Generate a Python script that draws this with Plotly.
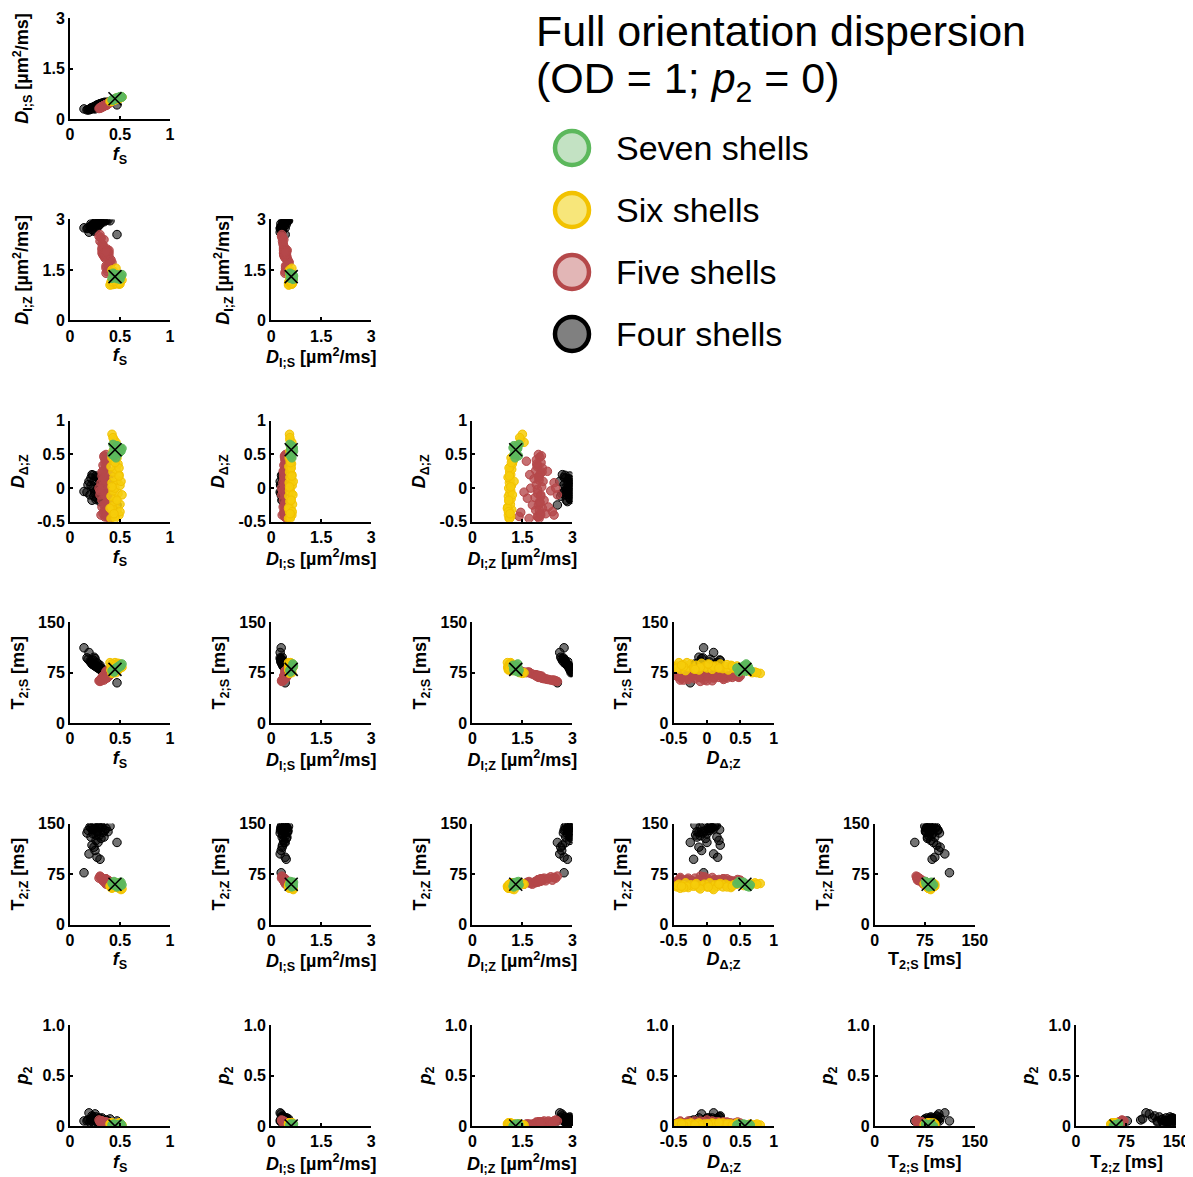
import plotly.graph_objects as go

# page body has an 8px margin, so the figure is offset by 8px inside the 1193x1177 window
W, H = 1185, 1169
OFF = 8

# ---------------- data ----------------
# columns: fS, D_I;S, D_I;Z, D_Delta;Z, T2;S, T2;Z, p2
var_keys = ["fS", "DIS", "DIZ", "DDZ", "T2S", "T2Z", "p2"]

axis_titles = [
    "<b><i>f</i><sub>S</sub></b>",
    "<b><i>D</i><sub>I;S</sub> [µm<sup>2</sup>/ms]</b>",
    "<b><i>D</i><sub>I;Z</sub> [µm<sup>2</sup>/ms]</b>",
    "<b><i>D</i><sub>Δ;Z</sub></b>",
    "<b>T<sub>2;S</sub> [ms]</b>",
    "<b>T<sub>2;Z</sub> [ms]</b>",
    "<b><i>p</i><sub>2</sub></b>",
]
axis_ranges = [[0, 1], [0, 3], [0, 3], [-0.5, 1], [0, 150], [0, 150], [0, 1]]
tick_vals = [[0, 0.5, 1], [0, 1.5, 3], [0, 1.5, 3], [-0.5, 0, 0.5, 1],
             [0, 75, 150], [0, 75, 150], [0, 0.5, 1]]
tick_text = [["0", "0.5", "1"], ["0", "1.5", "3"], ["0", "1.5", "3"],
             ["-0.5", "0", "0.5", "1"], ["0", "75", "150"], ["0", "75", "150"],
             ["0", "0.5", "1.0"]]

# Four shells
four_fS  = [0.14, 0.47, 0.18, 0.20, 0.21, 0.22, 0.23, 0.24, 0.25, 0.26, 0.27, 0.28, 0.29, 0.30, 0.31,
            0.32, 0.33, 0.35, 0.22, 0.25, 0.27, 0.30, 0.19, 0.24, 0.28, 0.21, 0.26, 0.31, 0.17, 0.23,
            0.36, 0.38, 0.40, 0.34, 0.29, 0.27]
four_DIS = [0.30, 0.42, 0.28, 0.30, 0.33, 0.32, 0.35, 0.36, 0.38, 0.37, 0.40, 0.41, 0.43, 0.44, 0.46,
            0.47, 0.48, 0.50, 0.34, 0.30, 0.42, 0.45, 0.27, 0.33, 0.39, 0.29, 0.35, 0.42, 0.27, 0.31,
            0.48, 0.50, 0.52, 0.47, 0.44, 0.39]
four_DIZ = [2.75, 2.55, 2.75, 2.78, 2.80, 2.82, 2.85, 2.88, 2.90, 2.92, 2.93, 2.95, 2.96, 2.97, 2.98,
            2.99, 2.97, 2.98, 2.70, 2.68, 2.75, 2.85, 2.62, 2.65, 2.80, 2.87, 2.94, 2.90, 2.73, 2.78,
            2.97, 2.99, 2.96, 2.93, 2.91, 2.86]
four_DDZ = [-0.05, -0.25, 0.05, -0.10, 0.15, -0.18, 0.00, 0.10, -0.05, 0.18, -0.15, 0.05, -0.10, 0.12, -0.02,
            0.08, -0.12, 0.02, 0.20, -0.08, 0.16, -0.20, 0.10, -0.12, 0.00, 0.04, -0.17, 0.14, -0.06, 0.19,
            0.06, -0.08, 0.12, -0.15, 0.03, -0.04]
four_T2S = [112, 60, 95, 92, 90, 88, 87, 86, 85, 84, 83, 82, 81, 80, 79,
            78, 77, 76, 93, 96, 90, 86, 105, 98, 88, 91, 85, 82, 97, 94,
            77, 76, 75, 79, 83, 85]
four_T2Z = [77, 122, 140, 145, 130, 148, 135, 142, 150, 125, 138, 146, 132, 149, 128,
            144, 137, 140, 118, 110, 100, 97, 105, 115, 122, 143, 133, 147, 136, 141,
            143, 138, 146, 130, 145, 139]
four_p2  = [0.05, 0.05, 0.06, 0.04, 0.07, 0.05, 0.08, 0.03, 0.06, 0.09, 0.04, 0.07, 0.05, 0.03, 0.06,
            0.08, 0.04, 0.05, 0.10, 0.12, 0.07, 0.06, 0.13, 0.08, 0.04, 0.06, 0.05, 0.07, 0.05, 0.09,
            0.06, 0.05, 0.07, 0.04, 0.08, 0.06]

# Five shells
five_fS  = [0.40, 0.38, 0.36, 0.33, 0.37, 0.31, 0.39, 0.35, 0.34, 0.37, 0.32, 0.38, 0.35, 0.36, 0.30,
            0.33, 0.39, 0.34, 0.31, 0.37, 0.35, 0.32, 0.38, 0.34, 0.36, 0.33, 0.37, 0.35, 0.34, 0.36,
            0.36, 0.30, 0.29, 0.40, 0.41, 0.42, 0.38, 0.33, 0.32, 0.39, 0.36, 0.34,
            0.35, 0.37, 0.33, 0.36, 0.34, 0.38, 0.32, 0.36, 0.35, 0.37, 0.34, 0.36]
five_DIS = [0.50, 0.45, 0.40, 0.38, 0.42, 0.33, 0.47, 0.41, 0.39, 0.44, 0.37, 0.46, 0.40, 0.43, 0.34,
            0.38, 0.48, 0.40, 0.35, 0.44, 0.42, 0.37, 0.45, 0.39, 0.42, 0.38, 0.44, 0.41, 0.40, 0.43,
            0.43, 0.32, 0.31, 0.52, 0.50, 0.54, 0.47, 0.36, 0.36, 0.46, 0.41, 0.38,
            0.41, 0.44, 0.38, 0.42, 0.40, 0.45, 0.37, 0.43, 0.41, 0.44, 0.39, 0.42]
five_DIZ = [1.70, 1.95, 2.05, 2.20, 1.45, 2.45, 1.90, 2.10, 1.98, 2.02, 2.15, 1.88, 2.05, 1.55, 2.35,
            1.95, 2.08, 1.92, 2.45, 2.12, 1.85, 2.00, 2.04, 1.90, 2.10, 1.96, 2.06, 1.92, 2.02, 1.98,
            1.62, 2.55, 2.50, 1.75, 1.80, 1.72, 1.65, 2.25, 2.28, 2.00, 1.40, 2.40,
            1.97, 2.03, 2.00, 1.94, 2.07, 1.96, 2.09, 2.01, 1.93, 2.05, 1.99, 2.04]
five_DDZ = [-0.45, -0.42, -0.40, -0.38, -0.36, -0.40, -0.33, -0.30, -0.25, -0.20, -0.18, -0.14, -0.10, -0.06, -0.04,
            -0.02, 0.02, 0.05, 0.08, 0.10, 0.14, 0.18, 0.22, 0.26, 0.30, 0.34, 0.38, 0.42, 0.46, 0.50,
            0.40, -0.10, 0.00, 0.00, -0.25, 0.20, -0.15, 0.25, -0.28, -0.45, -0.42, -0.35,
            -0.43, -0.22, 0.12, 0.32, 0.48, -0.08, 0.24, -0.33, 0.36, -0.12, 0.16, -0.38]
five_T2S = [76, 70, 68, 66, 78, 64, 72, 68, 69, 70, 66, 72, 68, 76, 64,
            69, 70, 71, 63, 67, 72, 68, 69, 71, 67, 70, 68, 70, 69, 70,
            75, 62, 63, 74, 73, 75, 76, 65, 65, 70, 77, 64,
            69, 70, 68, 71, 68, 71, 67, 69, 70, 68, 71, 69]
five_T2Z = [64, 66, 68, 65, 62, 70, 63, 67, 66, 64, 69, 62, 67, 60, 71,
            66, 65, 64, 70, 66, 63, 67, 65, 64, 68, 66, 65, 64, 67, 66,
            62, 72, 69, 61, 60, 62, 63, 68, 69, 64, 62, 66,
            66, 65, 67, 64, 66, 63, 68, 65, 64, 66, 65, 67]
five_p2  = [0.02, 0.03, 0.04, 0.02, 0.01, 0.05, 0.03, 0.02, 0.04, 0.03, 0.05, 0.02, 0.03, 0.01, 0.04,
            0.03, 0.02, 0.04, 0.05, 0.03, 0.02, 0.04, 0.03, 0.02, 0.04, 0.03, 0.02, 0.03, 0.04, 0.03,
            0.02, 0.05, 0.06, 0.01, 0.02, 0.01, 0.02, 0.04, 0.05, 0.03, 0.02, 0.03,
            0.03, 0.02, 0.04, 0.03, 0.02, 0.03, 0.04, 0.02, 0.03, 0.02, 0.04, 0.03]

# Six shells
six_fS  = [0.41, 0.45, 0.49, 0.43, 0.47, 0.42, 0.50, 0.44, 0.46, 0.41, 0.48, 0.43, 0.45, 0.50, 0.42,
           0.47, 0.44, 0.49, 0.43, 0.46, 0.41, 0.48, 0.44, 0.47, 0.43, 0.45, 0.44, 0.42, 0.51, 0.40,
           0.52, 0.46, 0.45, 0.49, 0.42, 0.50, 0.44, 0.47, 0.42, 0.49, 0.45, 0.46, 0.43]
six_DIS = [0.52, 0.58, 0.62, 0.55, 0.60, 0.54, 0.64, 0.56, 0.59, 0.53, 0.61, 0.55, 0.57, 0.63, 0.54,
           0.60, 0.56, 0.62, 0.55, 0.58, 0.53, 0.61, 0.57, 0.60, 0.56, 0.58, 0.56, 0.55, 0.66, 0.52,
           0.65, 0.62, 0.57, 0.60, 0.54, 0.63, 0.57, 0.60, 0.55, 0.62, 0.58, 0.59, 0.56]
six_DIZ = [1.10, 1.15, 1.08, 1.12, 1.18, 1.06, 1.14, 1.10, 1.16, 1.08, 1.12, 1.15, 1.09, 1.17, 1.11,
           1.13, 1.07, 1.15, 1.12, 1.18, 1.14, 1.20, 1.22, 1.25, 1.30, 1.38, 1.45, 1.50, 1.25, 1.05,
           1.20, 1.55, 1.12, 1.10, 1.16, 1.08, 1.13, 1.09, 1.15, 1.11, 1.17, 1.35, 1.42]
six_DDZ = [-0.45, -0.42, -0.40, -0.35, -0.32, -0.28, -0.24, -0.20, -0.16, -0.12, -0.08, -0.04, 0.00, 0.04, 0.08,
           0.12, 0.16, 0.20, 0.24, 0.28, 0.32, 0.36, 0.40, 0.45, 0.55, 0.65, 0.72, 0.80, 0.10, -0.30,
           -0.10, 0.68, -0.45, 0.30, 0.45, -0.35, -0.38, -0.18, 0.02, 0.18, 0.38, 0.60, 0.75]
six_T2S = [85, 90, 80, 87, 78, 83, 88, 81, 86, 79, 89, 84, 82, 87, 80,
           85, 83, 88, 81, 84, 79, 86, 82, 80, 78, 77, 76, 74, 84, 90,
           83, 75, 82, 87, 85, 84, 86, 80, 88, 82, 85, 79, 75]
six_T2Z = [56, 60, 54, 58, 62, 55, 59, 57, 61, 55, 58, 60, 56, 62, 54,
           59, 57, 61, 56, 60, 58, 55, 59, 61, 58, 60, 62, 61, 52, 57,
           53, 60, 58, 56, 60, 55, 57, 59, 56, 60, 57, 59, 60]
six_p2  = [0.02, 0.01, 0.03, 0.02, 0.01, 0.02, 0.03, 0.01, 0.02, 0.03, 0.01, 0.02, 0.02, 0.01, 0.03,
           0.02, 0.01, 0.02, 0.03, 0.01, 0.02, 0.02, 0.01, 0.02, 0.01, 0.02, 0.01, 0.01, 0.02, 0.02,
           0.01, 0.01, 0.02, 0.02, 0.03, 0.01, 0.02, 0.01, 0.02, 0.03, 0.01, 0.01, 0.02]

# Seven shells
seven_fS  = [0.45, 0.42, 0.48, 0.44, 0.50, 0.46, 0.43, 0.51, 0.47, 0.44, 0.49, 0.52]
seven_DIS = [0.60, 0.57, 0.64, 0.58, 0.66, 0.62, 0.56, 0.67, 0.61, 0.59, 0.63, 0.65]
seven_DIZ = [1.30, 1.25, 1.35, 1.38, 1.22, 1.28, 1.40, 1.32, 1.24, 1.34, 1.27, 1.36]
seven_DDZ = [0.57, 0.50, 0.62, 0.48, 0.60, 0.45, 0.65, 0.55, 0.63, 0.58, 0.52, 0.59]
seven_T2S = [80, 78, 84, 76, 86, 82, 79, 85, 81, 77, 83, 88]
seven_T2Z = [60, 62, 58, 64, 57, 61, 59, 63, 56, 60, 62, 59]
seven_p2  = [0.00, 0.01, 0.01, 0.02, 0.00, 0.01, 0.01, 0.02, 0.00, 0.01, 0.01, 0.00]

# Ground truth
truth = [0.45, 0.60, 1.30, 0.57, 80, 60, 0.0]

group_names = ["Four shells", "Five shells", "Six shells", "Seven shells"]
group_data = [
    [four_fS, four_DIS, four_DIZ, four_DDZ, four_T2S, four_T2Z, four_p2],
    [five_fS, five_DIS, five_DIZ, five_DDZ, five_T2S, five_T2Z, five_p2],
    [six_fS, six_DIS, six_DIZ, six_DDZ, six_T2S, six_T2Z, six_p2],
    [seven_fS, seven_DIS, seven_DIZ, seven_DDZ, seven_T2S, seven_T2Z, seven_p2],
]
edge_colors = ["#000000", "#b5484a", "#f2c200", "#5cb85c"]
fill_colors = ["rgba(0,0,0,0.55)", "rgba(181,72,74,0.78)", "rgba(246,205,10,0.85)", "rgba(92,184,92,0.9)"]
legend_fill = ["#808080", "#e2b6b6", "#f7e67a", "#c3e2c3"]

FONT = "Liberation Sans, Arial, sans-serif"

def px_x(p):
    return (p - OFF) / W

def px_y(p):
    return 1 - (p - OFF) / H

fig = go.Figure()
layout_axes = {}
annotations = []
k = 0
for r in range(6):
    yi = r + 1
    top = 18 + 201.4 * r
    bot = top + 101
    for c in range(r + 1):
        xi = c
        k += 1
        left = 70 + 201.2 * c
        right = left + 100
        xname = "x" if k == 1 else f"x{k}"
        yname = "y" if k == 1 else f"y{k}"
        for g in range(4):
            fig.add_trace(go.Scatter(
                x=group_data[g][xi], y=group_data[g][yi], mode="markers",
                xaxis=xname, yaxis=yname, showlegend=False, name=group_names[g],
                marker=dict(size=8.5, color=fill_colors[g],
                            line=dict(color=edge_colors[g], width=1)),
            ))
        fig.add_trace(go.Scatter(
            x=[truth[xi]], y=[truth[yi]], mode="markers", xaxis=xname, yaxis=yname,
            showlegend=False, name="Ground truth",
            marker=dict(symbol="x-thin", size=13, color="black",
                        line=dict(color="black", width=1.6)),
        ))
        common = dict(showline=True, linecolor="black", linewidth=2, showgrid=False,
                      zeroline=False, ticks="inside", ticklen=3, tickwidth=1.5,
                      tickcolor="black", automargin=False,
                      tickfont=dict(family=FONT, size=16, color="black", weight="bold"))
        bottom_row = (r == 5)
        layout_axes["xaxis" if k == 1 else f"xaxis{k}"] = dict(
            domain=[px_x(left), px_x(right)], anchor=yname,
            range=axis_ranges[xi], tickvals=tick_vals[xi], ticktext=tick_text[xi],
            title=dict(text="" if bottom_row else axis_titles[xi], standoff=5,
                       font=dict(family=FONT, size=18, color="black")),
            **common)
        if bottom_row:
            # bottom-row titles sit at the page edge, so place them directly
            annotations.append(dict(x=px_x(left + 50), y=px_y(bot + 37), xref="paper", yref="paper",
                                    xanchor="center", yanchor="middle", showarrow=False,
                                    text=axis_titles[xi],
                                    font=dict(family=FONT, size=18, color="black")))
        layout_axes["yaxis" if k == 1 else f"yaxis{k}"] = dict(
            domain=[px_y(bot), px_y(top)], anchor=xname,
            range=axis_ranges[yi], tickvals=tick_vals[yi], ticktext=tick_text[yi],
            title=dict(text=axis_titles[yi], standoff=9,
                       font=dict(family=FONT, size=18, color="black")),
            **common)

# legend drawn as layout shapes + text
shapes = []
leg_order = [3, 2, 1, 0]
leg_y = [148, 210, 272, 334]
for i, g in enumerate(leg_order):
    cx, cy, rad = 572, leg_y[i], 17
    shapes.append(dict(type="circle", xref="paper", yref="paper",
                       x0=px_x(cx - rad), x1=px_x(cx + rad),
                       y0=px_y(cy + rad), y1=px_y(cy - rad),
                       fillcolor=legend_fill[g], line=dict(color=edge_colors[g], width=4.5)))
    annotations.append(dict(x=px_x(614), y=px_y(cy), xref="paper", yref="paper",
                            xanchor="left", yanchor="middle", showarrow=False,
                            text=group_names[g],
                            font=dict(family=FONT, size=34, color="black")))

annotations.append(dict(x=px_x(534), y=px_y(31), xref="paper", yref="paper",
                        xanchor="left", yanchor="middle", showarrow=False,
                        text="Full orientation dispersion",
                        font=dict(family=FONT, size=43, color="black")))
annotations.append(dict(x=px_x(534), y=px_y(81), xref="paper", yref="paper",
                        xanchor="left", yanchor="middle", showarrow=False,
                        text="(OD = 1; <i>p</i><sub>2</sub> = 0)",
                        font=dict(family=FONT, size=43, color="black")))

fig.update_layout(
    width=W, height=H, margin=dict(l=0, r=0, t=0, b=0, autoexpand=False),
    paper_bgcolor="white", plot_bgcolor="white",
    showlegend=False, shapes=shapes, annotations=annotations,
    font=dict(family=FONT, color="black"),
    **layout_axes,
)

fig.write_html("out.html")
